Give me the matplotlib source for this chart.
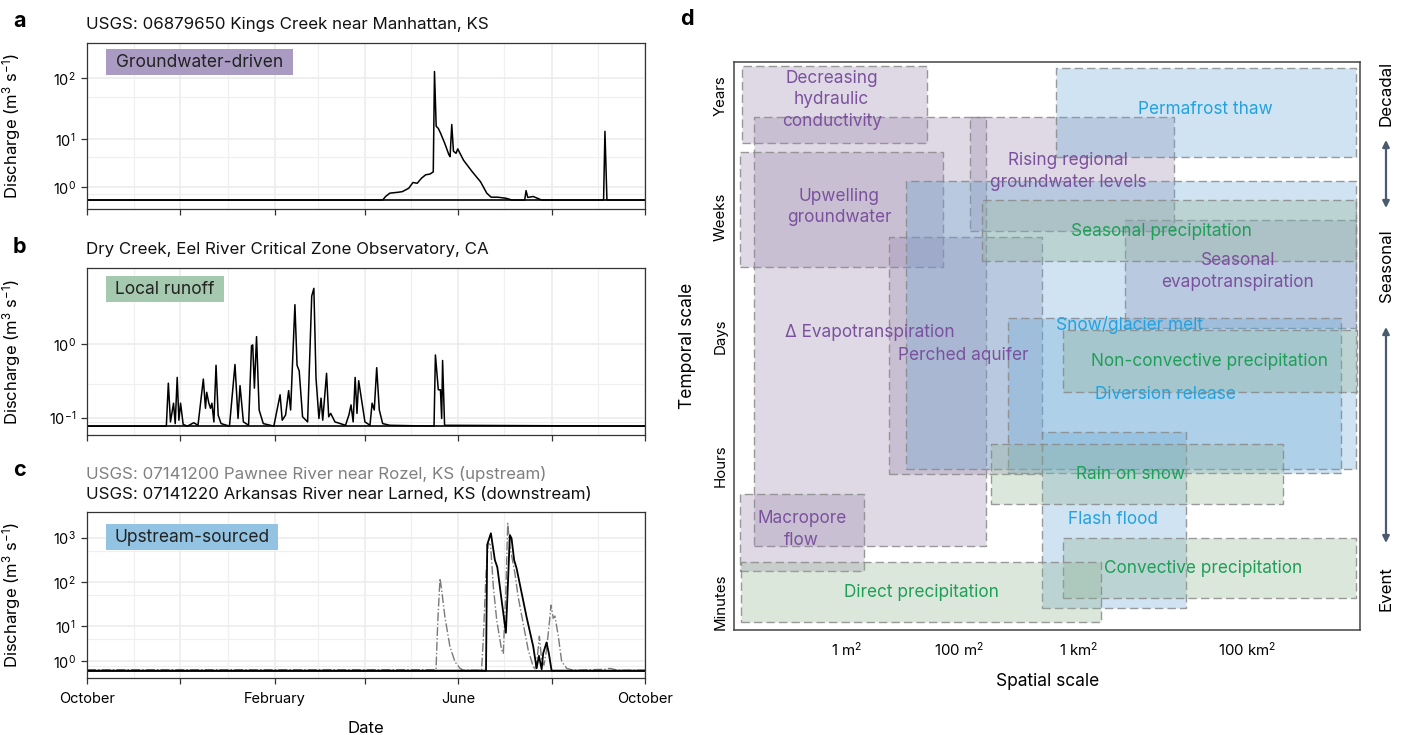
import numpy as np
import matplotlib.pyplot as plt
import matplotlib.colors as mcolors
from matplotlib.patches import Rectangle

plt.rcParams['font.family'] = ['Inter', 'DejaVu Sans']
plt.rcParams['mathtext.default'] = 'regular'

# ---- panel a: Kings Creek (day of water year, discharge) ----
a_day = [0, 193.4, 195.3, 198.1, 203.6, 206.3, 210.5, 213.2, 216.0, 218.8, 221.5, 224.3,
         226.5, 227.3, 228.4, 229.8, 231.2, 233.9, 236.7, 237.5, 238.6, 239.7, 241.4,
         242.5, 246.3, 251.9, 257.4, 261.5, 264.3, 268.4, 273.9, 278.1, 286.3, 287.2,
         288.3, 291.9, 297.4, 337.9, 338.8, 340.1, 365]
a_q = [0, 0, 0.27, 0.53, 0.6, 0.65, 0.93, 1.43, 1.36, 1.85, 2.22, 2.3,
       2.56, 130, 16.3, 15, 12.6, 8.6, 5.4, 5.0, 17.4, 6.2, 5.7,
       6.8, 4.3, 2.6, 1.5, 0.53, 0.22, 0.22, 0.14, 0, 0, 0.73,
       0.2, 0.27, 0, 0, 13.4, 0, 0]

# ---- panel b: Dry Creek ----
b_day = [0, 51.9, 53.2, 54.6, 56.6, 57.7, 59.0, 60.1, 61.2, 62.9, 65.7, 69.8, 72.6,
         76.1, 77.5, 78.3, 79.7, 80.8, 81.7, 83.0, 84.4, 85.8, 87.7, 93.2, 96.8, 98.8,
         100.1, 102.3, 105.7, 107.6, 108.4, 109.5, 110.9, 112.6, 115.3, 122.2, 126.3,
         127.7, 129.9, 131.9, 133.2, 136.0, 137.4, 138.8, 141.0, 144.3, 147.0, 148.4,
         149.8, 151.7, 153.1, 154.2, 156.7, 158.1, 159.4, 162.2, 169.1, 171.3, 172.7,
         174.1, 175.4, 176.6, 177.7, 179.6, 181.8, 185.1, 186.5, 187.9, 189.5, 191.2,
         193.4, 198.1, 227.0, 227.9, 229.8, 231.2, 232.0, 232.6, 233.9, 365]
b_q = [0, 0, 0.51, 0.05, 0.27, 0.03, 0.58, 0.07, 0.27, 0.02, 0.0, 0.04, 0.01,
       0.56, 0.21, 0.40, 0.27, 0.21, 0.27, 0.05, 0.73, 0.13, 0.03, 0.0, 0.74, 0.09,
       0.48, 0.05, 0.01, 0.98, 0.99, 0.45, 1.1, 0.19, 0.03, 0.0, 0.37,
       0.07, 0.13, 0.42, 0.19, 1.55, 0.73, 0.66, 0.11, 0.05, 1.68, 1.80,
       0.57, 0.09, 0.33, 0.07, 0.63, 0.11, 0.15, 0.05, 0.01, 0.13, 0.25,
       0.05, 0.58, 0.15, 0.54, 0.31, 0.05, 0.01, 0.27, 0.19, 0.70, 0.19,
       0.03, 0.01, 0, 0.86, 0.43, 0.43, 0.09, 0.79, 0.01, 0]

# ---- panel c: Arkansas River (downstream) and Pawnee River (upstream) ----
down_day = [0, 261.0, 261.8, 264.2, 266.8, 268.4, 271.2, 274.0, 274.9, 276.6, 277.7,
            279.4, 281.0, 287.5, 291.9, 294.1, 295.6, 297.4, 298.4, 300.6, 302.1, 303.9, 365]
down_q = [0, 0, 700, 1262, 314, 215, 39, 7.0, 39, 1150, 970,
          314, 204, 16.4, 3.2, 0.24, 1.7, 0.14, 2.05, 4.1, 2.05, 0, 0]
up_day = [0, 228.3, 229.4, 230.9, 232.0, 234.1, 237.4, 240.7, 244.0, 246.0, 258.1, 259.2,
          261.0, 262.5, 264.0, 265.8, 268.0, 271.2, 272.3, 274.0, 275.2, 276.6, 278.1,
          279.9, 282.0, 285.3, 288.6, 291.9, 292.9, 294.6, 295.9, 297.4, 298.9, 300.6,
          302.4, 303.5, 305.0, 306.1, 308.3, 310.5, 313.8, 318.0, 339.8, 342.0, 347.0, 365]
up_q = [0.1, 0.1, 11.6, 121, 66, 16.4, 3.2, 0.95, 0.24, 0.05, 0.05, 4.7,
        157, 750, 685, 78, 13.8, 2.6, 2.05, 66, 2120, 627, 344,
        157, 47, 11.6, 2.6, 0.4, 0.1, 1.57, 5.8, 1.16, 0.58, 2.6,
        11.6, 30, 15.1, 17, 5.8, 0.97, 0.24, 0.05, 0.14, 0.24, 0.05, 0.05]

month_ticks = [0, 61, 123, 182, 243, 304, 365]
month_labels = ['October', '', 'February', '', 'June', '', 'October']
month_grid = [31, 92, 151, 212, 273, 334]

# ---- panel d: process rectangles (conceptual axis units 0-100) ----
proc_names = ['Decreasing\nhydraulic\nconductivity', '\u0394 Evapotranspiration',
              'Upwelling\ngroundwater', 'Rising regional\ngroundwater levels',
              'Perched aquifer', 'Macropore\nflow', 'Seasonal\nevapotranspiration',
              'Permafrost thaw', 'Snow/glacier melt', 'Diversion release', 'Flash flood',
              'Seasonal precipitation', 'Non-convective precipitation', 'Rain on snow',
              'Convective precipitation', 'Direct precipitation']
proc_kind = ['gw', 'gw', 'gw', 'gw', 'gw', 'gw', 'gw',
             'up', 'up', 'up', 'up',
             'loc', 'loc', 'loc', 'loc', 'loc']
proc_x0 = [1.18, 3.20, 0.91, 37.72, 24.77, 0.91, 62.44, 51.37, 27.44, 43.74, 49.13,
           39.54, 52.61, 40.98, 52.58, 1.07]
proc_x1 = [30.75, 40.18, 33.40, 70.27, 49.13, 20.78, 99.36, 99.31, 99.31, 96.96, 72.19,
           99.31, 99.47, 87.74, 99.31, 58.61]
proc_y0 = [85.73, 14.80, 64.0, 70.28, 27.48, 10.39, 53.20, 83.27, 28.36, 27.66, 3.88,
           64.95, 41.98, 22.14, 5.58, 1.36]
proc_y1 = [99.35, 90.31, 84.25, 90.42, 69.17, 24.01, 72.22, 98.94, 79.09, 55.01, 34.88,
           75.66, 52.76, 32.76, 16.15, 11.93]
proc_lx = [15.57, 21.69, 16.73, 53.33, 36.55, 10.77, 80.50, 75.23, 63.24, 68.83, 60.57,
           68.20, 75.95, 63.32, 74.91, 29.89]
proc_ly = [93.36, 52.49, 74.51, 80.77, 48.32, 17.67, 63.18, 91.60, 53.73, 41.40, 19.38,
           70.28, 47.38, 27.43, 10.87, 6.64]

time_ticks = [94.2, 72.7, 51.7, 28.9, 5.0]
time_labels = ['Years', 'Weeks', 'Days', 'Hours', 'Minutes']
space_ticks = [18.0, 35.9, 55.1, 82.0]
space_labels = ['1 m$^{2}$', '100 m$^{2}$', '1 km$^{2}$', '100 km$^{2}$']

fill_col = {'gw': '#9884ac', 'loc': '#8eb28e', 'up': '#62a5d4'}
text_col = {'gw': '#7b519d', 'loc': '#1e9f57', 'up': '#22a3de'}
tag_col = {'gw': '#a99bc1', 'loc': '#a5c9ae', 'up': '#92c3e3'}

W, H = 1402, 735
fig = plt.figure(figsize=(W / 100, H / 100), dpi=100)


def box(x0, y0, x1, y1):
    return [x0 / W, 1 - y1 / H, (x1 - x0) / W, (y1 - y0) / H]


def fpos(x, y):
    return x / W, 1 - y / H


def fwd(v):
    return np.arcsinh(np.asarray(v) / 2) / np.log(10)


def inv(t):
    return 2 * np.sinh(np.asarray(t) * np.log(10))


def style_ts(ax, ylim, major, minor, show_x):
    ax.set_yscale('function', functions=(fwd, inv))
    ax.set_xlim(0, 365)
    ax.set_ylim(*ylim)
    ax.set_yticks(major)
    ax.set_yticklabels(['$10^{%d}$' % int(round(np.log10(m))) for m in major])
    ax.set_yticks(minor, minor=True)
    ax.set_xticks(month_ticks)
    ax.set_xticks(month_grid, minor=True)
    if show_x:
        ax.set_xticklabels(month_labels, fontsize=11)
    else:
        ax.set_xticklabels([])
    ax.grid(which='major', color='#ebebeb', lw=1.1)
    ax.grid(which='minor', color='#f0f0f0', lw=0.9)
    ax.set_axisbelow(True)
    ax.tick_params(which='minor', length=0)
    ax.tick_params(which='major', length=4, color='#333333', width=0.9,
                   labelsize=10.5, pad=4)
    ax.tick_params(axis='x', pad=6)
    for s in ax.spines.values():
        s.set_color('#333333')
        s.set_linewidth(0.9)
    ax.set_ylabel('Discharge (m$^{3}$ s$^{-1}$)', fontsize=12)
    ax.yaxis.set_label_coords(-0.115, 0.5)


def tag(text, kind, x0, y0, x1, y1):
    # regime tag in the upper-left corner of a hydrograph panel (pixel box)
    fig.add_artist(Rectangle(fpos(x0, y1), (x1 - x0) / W, (y1 - y0) / H,
                             transform=fig.transFigure, facecolor=tag_col[kind],
                             edgecolor='none', zorder=5))
    fig.text(*fpos((x0 + x1) / 2, (y0 + y1) / 2 + 0.5), text, fontsize=12.5,
             ha='center', va='center', color='#222222', zorder=6)


# panel a
ax_a = fig.add_axes(box(87, 42.7, 645, 209))
style_ts(ax_a, (-0.69, 387), [1, 10, 100], [0.5, 5, 50], False)
ax_a.axhline(0, color='black', lw=1.2)
ax_a.plot(a_day, a_q, color='black', lw=1.1)
tag('Groundwater-driven', 'gw', 106, 49, 293, 74.5)

# panel b
ax_b = fig.add_axes(box(87, 268.3, 645, 435))
style_ts(ax_b, (-0.104, 2.13), [0.1, 1], [0.05, 0.5], False)
ax_b.axhline(0, color='black', lw=1.2)
ax_b.plot(b_day, b_q, color='black', lw=1.1)
tag('Local runoff', 'loc', 106, 275.7, 224, 301.7)

# panel c
ax_c = fig.add_axes(box(87, 512.3, 645, 677.7))
style_ts(ax_c, (-0.75, 3750), [1, 10, 100, 1000], [0.5, 5, 50, 500], True)
ax_c.plot(up_day, up_q, color='#7a7a7a', lw=1.0, ls='-.')
ax_c.axhline(0, color='black', lw=1.2)
ax_c.plot(down_day, down_q, color='black', lw=1.3)
ax_c.set_xlabel('Date', fontsize=12, labelpad=11)
tag('Upstream-sourced', 'up', 106, 524, 277.5, 550)

# panel titles and letters
title_kw = dict(fontsize=12.2, va='center', ha='left')
fig.text(*fpos(86, 24.5), 'USGS: 06879650 Kings Creek near Manhattan, KS',
         color='#111111', **title_kw)
fig.text(*fpos(86, 250), 'Dry Creek, Eel River Critical Zone Observatory, CA',
         color='#111111', **title_kw)
fig.text(*fpos(86, 474), 'USGS: 07141200 Pawnee River near Rozel, KS (upstream)',
         color='#808080', **title_kw)
fig.text(*fpos(86, 494.5), 'USGS: 07141220 Arkansas River near Larned, KS (downstream)',
         color='#111111', **title_kw)
for letter, (lx, ly) in zip('abcd', [(13, 21), (13, 247), (13, 470), (680, 19)]):
    fig.text(*fpos(lx, ly), letter, fontsize=15.5, fontweight='bold', va='center', ha='left')

# panel d
ax_d = fig.add_axes(box(734.3, 62.3, 1360, 630))
ax_d.set_xlim(0, 100)
ax_d.set_ylim(0, 100)
for i in range(len(proc_names)):
    k = proc_kind[i]
    ax_d.add_patch(Rectangle((proc_x0[i], proc_y0[i]), proc_x1[i] - proc_x0[i],
                             proc_y1[i] - proc_y0[i],
                             facecolor=mcolors.to_rgba(fill_col[k], 0.3),
                             edgecolor=mcolors.to_rgba('#8a8a8a', 0.85),
                             lw=1.0, ls=(0, (6, 3))))
for i in range(len(proc_names)):
    ax_d.text(proc_lx[i], proc_ly[i], proc_names[i], color=text_col[proc_kind[i]],
              fontsize=12.4, ha='center', va='center', linespacing=1.35)
ax_d.set_xticks(space_ticks)
ax_d.set_xticklabels(space_labels, fontsize=10.8)
ax_d.set_yticks(time_ticks)
ax_d.set_yticklabels(time_labels, fontsize=10.8, rotation=90, va='center')
ax_d.tick_params(axis='y', length=0, pad=5)
ax_d.tick_params(axis='x', length=0, pad=8)
for s in ax_d.spines.values():
    s.set_color('#444444')
    s.set_linewidth(1.1)
ax_d.set_xlabel('Spatial scale', fontsize=12.5)
ax_d.set_ylabel('Temporal scale', fontsize=12.5)
ax_d.xaxis.set_label_coords(0.5, -0.075)
ax_d.yaxis.set_label_coords(-0.062, 0.5)

# right-hand timescale guide
arrow_col = '#4b5a6e'
for txt, y in [('Decadal', 93.5), ('Seasonal', 266), ('Event', 589)]:
    fig.text(*fpos(1386, y), txt, fontsize=12.2, rotation=90, ha='center', va='center')
for y0, y1 in [(140, 208), (327, 543)]:
    fig.add_artist(plt.Annotation('', xy=fpos(1386, y1), xytext=fpos(1386, y0),
                                  xycoords='figure fraction', textcoords='figure fraction',
                                  arrowprops=dict(arrowstyle='<|-|>', color=arrow_col,
                                                  lw=1.6, mutation_scale=10,
                                                  shrinkA=0, shrinkB=0)))

fig.savefig('out.png', dpi=100)
